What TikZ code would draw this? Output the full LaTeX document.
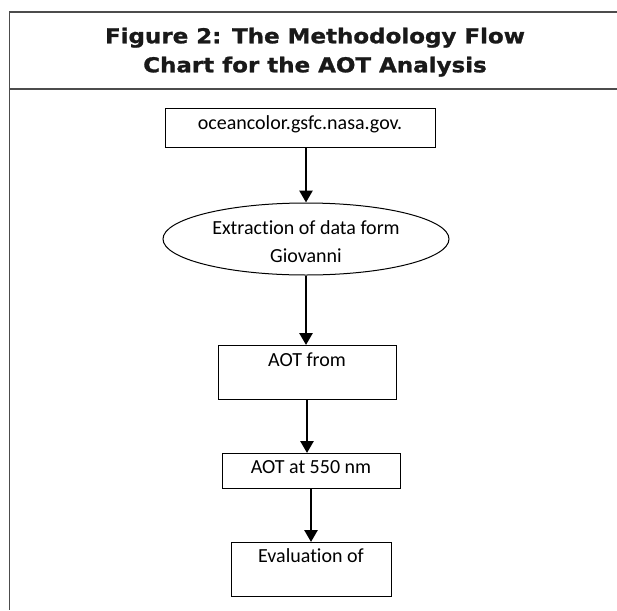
\documentclass[tikz,border=0pt]{standalone}
\usepackage{fontspec}
\setmainfont{Carlito}[Ligatures=NoCommon]
\newfontfamily\headfont{DejaVu Sans}[FakeStretch=1.12,BoldFeatures={FakeBold=1.2}]
\usetikzlibrary{arrows.meta,shapes.geometric}
\tikzset{frame/.style={draw=black!70,line width=1.5pt},
	box/.style={draw,line width=1pt,inner sep=0pt,font=\fontsize{20}{28}\selectfont},
	flow/.style={line width=2.7pt,-{Triangle[width=13pt,length=12pt]}}}

\begin{document}
\begin{tikzpicture}[x=1pt,y=-1pt]
	\useasboundingbox (0,0) rectangle (617,610);
	\draw[frame] (617,12) -- (9.5,12) -- (9.5,610);
	\draw[frame] (9.5,89) -- (617,89);
	\node[anchor=north,inner sep=0pt,align=center,text=black!90,
		font=\headfont\bfseries\fontsize{20.5}{29}\selectfont]
		(title) at (315,27.5) {Figure 2: The Methodology Flow\\Chart for the AOT Analysis};

	\node[box,anchor=north,minimum width=270pt,text height=20.5pt,text depth=18.5pt]
		(source) at (300,108) {oceancolor.gsfc.nasa.gov.};
	\node[box,ellipse,minimum width=286pt,minimum height=72pt,align=center,
		text height=46pt,text depth=0pt]
		(extract) at (306,239) {Extraction of data form\\Giovanni};
	\node[box,anchor=north,minimum width=178pt,text height=21pt,text depth=33pt]
		(aot-from) at (307,345) {AOT from};
	\node[box,anchor=north,minimum width=178pt,text height=20pt,text depth=15pt]
		(aot-550) at (311,453) {AOT at 550 nm};
	\node[box,anchor=north,minimum width=160pt,text height=20pt,text depth=34pt]
		(eval) at (311,542) {Evaluation of};

	\draw[flow] (extract.north |- source.south) -- (extract.north);
	\draw[flow] (extract.south) -- (extract.south |- aot-from.north);
	\draw[flow] (aot-from.south) -- (aot-from.south |- aot-550.north);
	\draw[flow] (aot-550.south) -- (aot-550.south |- eval.north);
\end{tikzpicture}
\end{document}
